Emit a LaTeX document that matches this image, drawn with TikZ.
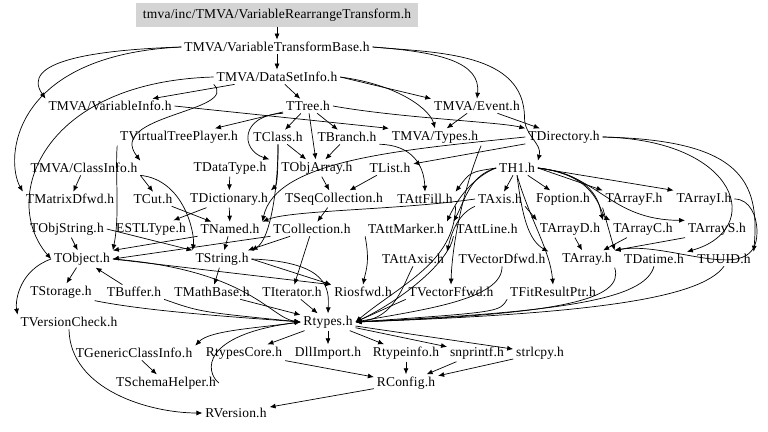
\documentclass[tikz,border=0pt]{standalone}
\usepackage{fontspec}
\setmainfont[LetterSpace=1.5]{Liberation Serif}
\usetikzlibrary{arrows.meta}

\begin{document}
\begin{tikzpicture}[
x=1pt, y=-1pt,
file/.style={inner xsep=3pt, inner ysep=2.5pt, outer sep=0pt, font=\fontsize{13.5}{16}\selectfont},
rootfile/.style={file, fill=black!17, minimum width=282pt, minimum height=24pt},
dep/.style={-{Latex[length=6pt,width=5pt]}, line width=0.7pt},
]
\useasboundingbox (0,0) rectangle (768,431);

%Nodes
\node[rootfile] (root) at (277,15) {tmva/inc/TMVA/VariableRearrangeTransform.h};
\node[file] (vtb)      at (277,47)  {TMVA/VariableTransformBase.h};
\node[file] (dsi)      at (277,77)  {TMVA/DataSetInfo.h};
\node[file] (vinfo)    at (110,106) {TMVA/VariableInfo.h};
\node[file] (tree)     at (308,106) {TTree.h};
\node[file] (event)    at (477,106) {TMVA/Event.h};
\node[file] (vtp)      at (179,137) {TVirtualTreePlayer.h};
\node[file] (tclass)   at (278,137) {TClass.h};
\node[file] (branch)   at (347,137) {TBranch.h};
\node[file] (types)    at (435,137) {TMVA/Types.h};
\node[file] (dir)      at (564,137) {TDirectory.h};
\node[file] (cinfo)    at (84,168)  {TMVA/ClassInfo.h};
\node[file] (dtype)    at (230,168) {TDataType.h};
\node[file] (objarr)   at (317,168) {TObjArray.h};
\node[file] (tlist)    at (390,168) {TList.h};
\node[file] (th1)      at (517,168) {TH1.h};
\node[file] (mdfwd)    at (70,199)  {TMatrixDfwd.h};
\node[file] (cut)      at (153,199) {TCut.h};
\node[file] (dict)     at (229,199) {TDictionary.h};
\node[file] (seqc)     at (334,199) {TSeqCollection.h};
\node[file] (attfill)  at (425,199) {TAttFill.h};
\node[file] (axis)     at (500,199) {TAxis.h};
\node[file] (fopt)     at (563,199) {Foption.h};
\node[file] (arrf)     at (634,199) {TArrayF.h};
\node[file] (arri)     at (704,199) {TArrayI.h};
\node[file] (objstr)   at (67,229)  {TObjString.h};
\node[file] (estl)     at (151,229) {ESTLType.h};
\node[file] (named)    at (230,229) {TNamed.h};
\node[file] (coll)     at (312,229) {TCollection.h};
\node[file] (attmark)  at (406,229) {TAttMarker.h};
\node[file] (attline)  at (487,229) {TAttLine.h};
\node[file] (arrd)     at (570,229) {TArrayD.h};
\node[file] (arrc)     at (643,229) {TArrayC.h};
\node[file] (arrs)     at (717,229) {TArrayS.h};
\node[file] (tobject)  at (82,259)  {TObject.h};
\node[file] (tstring)  at (222,259) {TString.h};
\node[file] (attaxis)  at (413,259) {TAttAxis.h};
\node[file] (vdfwd)    at (502,259) {TVectorDfwd.h};
\node[file] (tarray)   at (587,259) {TArray.h};
\node[file] (datime)   at (654,259) {TDatime.h};
\node[file] (uuid)     at (724,259) {TUUID.h};
\node[file] (storage)  at (61,292)  {TStorage.h};
\node[file] (buffer)   at (134,292) {TBuffer.h};
\node[file] (mathb)    at (212,292) {TMathBase.h};
\node[file] (iter)     at (292,292) {TIterator.h};
\node[file] (riosfwd)  at (363,292) {Riosfwd.h};
\node[file] (vffwd)    at (451,292) {TVectorFfwd.h};
\node[file] (fitres)   at (553,292) {TFitResultPtr.h};
\node[file] (vcheck)   at (69,322)  {TVersionCheck.h};
\node[file] (rtypes)   at (328,322) {Rtypes.h};
\node[file] (gci)      at (134,353) {TGenericClassInfo.h};
\node[file] (rtcore)   at (244,353) {RtypesCore.h};
\node[file] (dll)      at (328,353) {DllImport.h};
\node[file] (rtinfo)   at (406,353) {Rtypeinfo.h};
\node[file] (snpr)     at (477,353) {snprintf.h};
\node[file] (strl)     at (540,353) {strlcpy.h};
\node[file] (schema)   at (166,383) {TSchemaHelper.h};
\node[file] (rconfig)  at (406,383) {RConfig.h};
\node[file] (rversion) at (236,413) {RVersion.h};

%Lines
\draw[dep] (root) -- (vtb);
\draw[dep] (vtb) -- (dsi);
\draw[dep] (vtb.east) .. controls (440,52) and (481,62) .. (event.north);
\draw[dep] (vtb.east) to[out=-5,in=90] (524.5,118) to[out=-90,in=75] (th1.north east);
\draw[dep] (vtb.west) .. controls (90,50) and (20,62) .. (vinfo.north west);
\draw[dep] (vtb.west) .. controls (10,55) and (5,160) .. (mdfwd.north west);
\draw[dep] (dsi) -- (vinfo);
\draw[dep] (dsi) -- (tree);
\draw[dep] (dsi.east) -- (event.north west);
\draw[dep] (dsi.east) .. controls (400,85) and (430,110) .. (types.north);
\draw[dep] (dsi.south west) .. controls (240,112) and (105,115) .. (cinfo.north east);
\draw[dep] (dsi.west) .. controls (40,82) and (0,200) .. (tobject.west);
\draw[dep] (vinfo.east) -- (types.north west);
\draw[dep] (event) -- (types);
\draw[dep] (event) -- (dir);
\draw[dep] (tree) -- (vtp);
\draw[dep] (tree) -- (tclass);
\draw[dep] (tree) -- (branch);
\draw[dep] (tree) -- (objarr);
\draw[dep] (tree.east) .. controls (400,118) and (500,122) .. (dir.north west);
\draw[dep] (tree.south west) .. controls (240,115) and (240,150) .. (dtype.north east);
\draw[dep] (branch) -- (objarr);
\draw[dep] (branch.south east) .. controls (412,145) and (424,165) .. (attfill.north);
\draw[dep] (tclass) -- (objarr);
\draw[dep] (tclass.south) .. controls (278,175) and (277,185) .. (dict.north east);
\draw[dep] (tclass.south) .. controls (278,190) and (270,240) .. (tstring.north east);
\draw[dep] (vtp.south west) .. controls (115,175) and (120,215) .. (tobject.north east);
\draw[dep] (types.south east) .. controls (463,190) and (452,245) .. (vffwd.north);
\draw[dep] (dir.west) .. controls (400,150) and (276,160) .. (named.north east);
\draw[dep] (dir) -- (tlist);
\draw[dep] (dir.east) .. controls (740,140) and (760,180) .. (uuid.north east);
\draw[dep] (dir.east) .. controls (740,140) and (765,230) .. (datime.north east);
\draw[dep] (cinfo) -- (mdfwd);
\draw[dep] (cinfo.south east) -- (cut.north);
\draw[dep] (cinfo.south east) .. controls (185,180) and (195,235) .. (tstring.north west);
\draw[dep] (dtype) -- (dict);
\draw[dep] (objarr) -- (seqc);
\draw[dep] (tlist) -- (seqc);
\draw[dep] (th1) -- (axis);
\draw[dep] (th1.west) .. controls (470,172) .. (attfill.north east);
\draw[dep] (th1.west) .. controls (470,175) and (465,200) .. (attline.north west);
\draw[dep] (th1.west) .. controls (465,180) and (450,215) .. (attmark.north east);
\draw[dep] (th1) -- (fopt);
\draw[dep] (th1.east) -- (arrf.north west);
\draw[dep] (th1.east) -- (arri.north west);
\draw[dep] (th1.east) .. controls (600,175) and (600,210) .. (arrd.north east);
\draw[dep] (th1.east) .. controls (600,175) and (600,215) .. (arrc.north west);
\draw[dep] (th1.east) .. controls (600,175) and (610,220) .. (arrs.north west);
\draw[dep] (th1.south) .. controls (522,215) and (528,240) .. (vdfwd.north east);
\draw[dep] (th1.south) .. controls (530,220) and (550,250) .. (fitres.north);
\draw[dep] (cut) -- (named);
\draw[dep] (dict) -- (named);
\draw[dep] (dict) -- (estl);
\draw[dep] (seqc) -- (coll);
\draw[dep] (axis.west) .. controls (400,210) and (290,210) .. (named.north east);
\draw[dep] (axis.south west) .. controls (455,215) and (450,240) .. (attaxis.north east);
\draw[dep] (axis.south east) -- (arrd.north west);
\draw[dep] (arrf.south west) -- (tarray.north east);
\draw[dep] (arri.east) to[out=0,in=90] (757,232) to[out=-90,in=10] (tarray.north east);
\draw[dep] (arrd) -- (tarray);
\draw[dep] (arrc) -- (tarray);
\draw[dep] (arrs.south west) -- (tarray.north east);
\draw[dep] (objstr) -- (tobject);
\draw[dep] (objstr.east) -- (tstring.north west);
\draw[dep] (named.south west) -- (tobject.north east);
\draw[dep] (named) -- (tstring);
\draw[dep] (coll.south west) -- (tobject.east);
\draw[dep] (coll) -- (tstring);
\draw[dep] (coll) -- (iter);
\draw[dep] (attmark.south west) .. controls (370,262) and (366,270) .. (riosfwd.north);
\draw[dep] (attline.south west) .. controls (449,262) and (402,300) .. (rtypes.east);
\draw[dep] (attfill.south east) .. controls (455,262) and (400,285) .. (rtypes.east);
\draw[dep] (attaxis.south) .. controls (403,285) and (395,318) .. (rtypes.east);
\draw[dep] (vdfwd.south) .. controls (503,300) and (420,310) .. (rtypes.east);
\draw[dep] (vffwd.south west) -- (rtypes.east);
\draw[dep] (fitres.south west) .. controls (500,312) .. (rtypes.east);
\draw[dep] (tarray.south east) .. controls (625,300) and (560,314) .. (rtypes.east);
\draw[dep] (datime.south) .. controls (645,300) and (560,312) .. (rtypes.east);
\draw[dep] (uuid.south) .. controls (700,300) and (580,314) .. (rtypes.east);
\draw[dep] (tobject) -- (storage);
\draw[dep] (tobject.west) .. controls (20,270) and (15,300) .. (vcheck.north west);
\draw[dep] (tobject.east) .. controls (250,270) and (270,318) .. (rtypes.west);
\draw[dep] (tobject.east) -- (riosfwd.north west);
\draw[dep] (buffer) -- (tobject);
\draw[dep] (tstring) -- (mathb);
\draw[dep] (tstring.east) -- (riosfwd.north west);
\draw[dep] (tstring.east) .. controls (330,262) and (329,290) .. (rtypes.north);
\draw[dep] (storage.south east) .. controls (150,312) and (250,318) .. (rtypes.west);
\draw[dep] (buffer.south east) .. controls (200,312) .. (rtypes.west);
\draw[dep] (mathb) -- (rtypes);
\draw[dep] (iter) -- (rtypes);
\draw[dep] (rtypes.west) .. controls (260,328) and (210,330) .. (gci.north east);
\draw[dep] (rtypes) -- (rtcore);
\draw[dep] (rtypes) -- (dll);
\draw[dep] (rtypes) -- (rtinfo);
\draw[dep] (rtypes) -- (snpr);
\draw[dep] (rtypes) -- (strl);
\draw[dep] (gci) -- (schema);
\draw[dep] (schema.east) .. controls (205,372) and (200,335) .. (rtypes.west);
\draw[dep] (rtcore) -- (rconfig);
\draw[dep] (rtinfo) -- (rconfig);
\draw[dep] (snpr) -- (rconfig);
\draw[dep] (strl) -- (rconfig);
\draw[dep] (rconfig) -- (rversion);
\draw[dep] (vcheck.south) .. controls (70,390) and (150,413) .. (rversion.west);
\end{tikzpicture}
\end{document}
